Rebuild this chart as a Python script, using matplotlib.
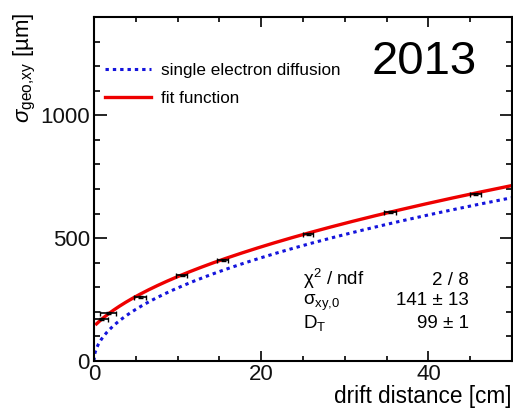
import numpy as np
import matplotlib
matplotlib.use("Agg")
import matplotlib.pyplot as plt

plt.rcParams['font.family'] = ['Liberation Sans', 'DejaVu Sans']
plt.rcParams['mathtext.fontset'] = 'custom'
plt.rcParams['mathtext.rm'] = 'Liberation Sans'
plt.rcParams['mathtext.it'] = 'Liberation Sans:italic'
plt.rcParams['mathtext.bf'] = 'Liberation Sans:bold'

# measured points: drift distance [cm] and resolution [um]
drift = [0.8, 1.7, 5.5, 10.5, 15.4, 25.6, 35.4, 45.6]
drift_err = [0.9, 0.95, 0.7, 0.65, 0.65, 0.6, 0.7, 0.65]
sigma = [171, 194, 261, 348, 413, 517, 607, 681]
sigma_err = [4, 4, 4, 4, 4, 4, 4, 4]

# fit parameters
sigma0 = 141.0
d_t = 99.0
# single electron diffusion coefficient [um/sqrt(cm)]
d_single = 94.0

fig = plt.figure(figsize=(5.13, 4.16), dpi=100)
ax = fig.add_axes([0.1832, 0.1322, 0.8148, 0.8269])

L = np.linspace(0, 50, 600)
ax.plot(L, d_single * np.sqrt(L), color='#1414dc', lw=2.2,
        linestyle=(0, (1.1, 1.3)), label='single electron diffusion')
Lf = np.linspace(0.3, 50, 600)
ax.plot(Lf, np.sqrt(sigma0**2 + d_t**2 * Lf), color='#ee0000', lw=2.4,
        label='fit function')
ax.errorbar(drift, sigma, xerr=drift_err, yerr=sigma_err, fmt='none',
            ecolor='black', elinewidth=1.2, capsize=1.8, capthick=1.0)

ax.set_xlim(0, 50)
ax.set_ylim(0, 1400)
ax.set_xticks([0, 20, 40])
ax.set_xticks(np.arange(0, 51, 5), minor=True)
ax.set_yticks([0, 500, 1000])
ax.set_yticks(np.arange(0, 1401, 100), minor=True)

for s in ax.spines.values():
    s.set_linewidth(1.5)
ax.tick_params(axis='both', which='both', direction='in', top=True, right=True,
               width=1.2, labelsize=16, labelcolor='#111111')
ax.tick_params(axis='y', which='major', length=9, pad=3)
ax.tick_params(axis='y', which='minor', length=4.5)
ax.tick_params(axis='x', which='major', length=7, pad=2)
ax.tick_params(axis='x', which='minor', length=3.6)

ax.set_xlabel('drift distance [cm]', fontsize=16.3, loc='right', labelpad=0)
ax.set_ylabel(r'$\sigma_{\mathrm{geo{,}xy}}$ [µm]', fontsize=16, loc='top')
ax.yaxis.set_label_coords(-0.135, 1.012)

leg = ax.legend(loc='upper left', bbox_to_anchor=(0.01, 0.886), frameon=False,
                fontsize=12.3, handlelength=2.7, handletextpad=0.6,
                labelspacing=0.75, borderaxespad=0)

ax.text(0.665, 0.868, '2013', transform=ax.transAxes, fontsize=34,
        ha='left', va='center')

rows = [('χ$^{2}$ / ndf', '2 / 8'),
        ('σ$_{\\mathrm{xy{,}0}}$', '141 ± 13'),
        ('D$_{\\mathrm{T}}$', '99 ± 1')]
ys = [0.222, 0.162, 0.095]
for (lab, val), yy in zip(rows, ys):
    ax.text(0.5, yy, lab, transform=ax.transAxes, fontsize=13.5, ha='left', va='baseline')
    ax.text(0.897, yy, val, transform=ax.transAxes, fontsize=13.5, ha='right', va='baseline')

fig.savefig('out.png', dpi=100)
